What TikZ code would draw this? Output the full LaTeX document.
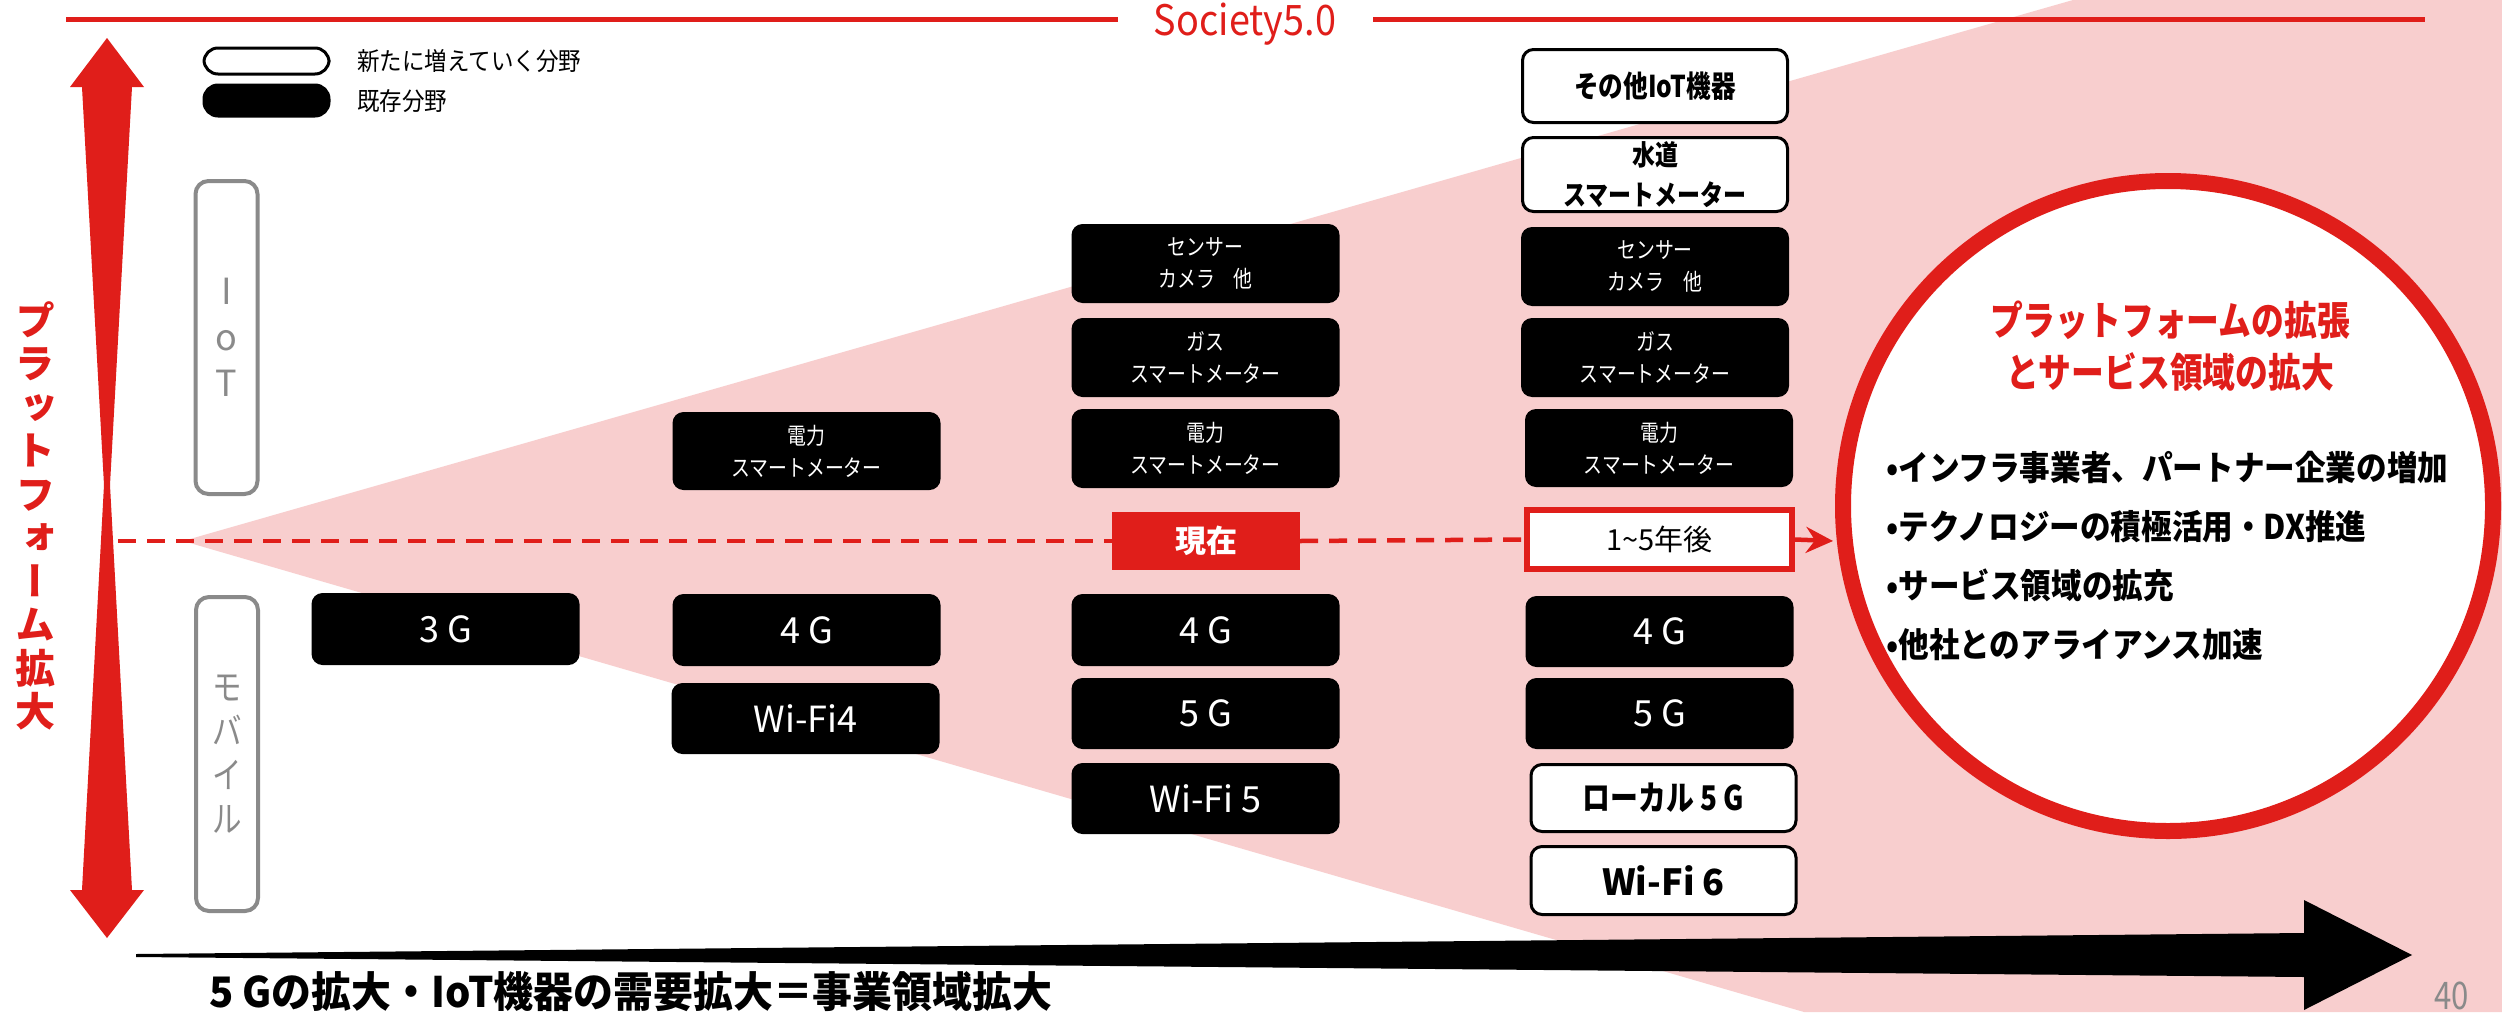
\documentclass[tikz,border=0pt]{standalone}
\usepackage{fontspec}
\setmainfont{Noto Sans CJK JP}
\newfontfamily\jpc{Noto Sans CJK JP}[FakeStretch=0.82]
\newfontfamily\jpn{Noto Sans CJK JP}[FakeStretch=0.9]
\newfontfamily\jpw{Noto Sans CJK JP}[FakeStretch=0.95]
\newfontfamily\jpv{Noto Sans CJK JP}[RawFeature=+vert]
\usetikzlibrary{arrows.meta}
\definecolor{sred}{RGB}{224,30,26}
\definecolor{spink}{RGB}{248,206,206}
\definecolor{sgray}{RGB}{138,138,138}
\begin{document}
\begin{tikzpicture}[x=1pt,y=-1pt,
  blk/.style={rectangle, rounded corners=11pt, fill=black, text=white, minimum width=268pt, inner sep=0pt, align=center, font=\jpc\fontsize{23}{32}\selectfont},
  wht/.style={rectangle, rounded corners=11pt, fill=white, draw=black, line width=3pt, text=black, minimum width=265pt, inner sep=0pt, align=center},
  gtxt/.style={font=\fontsize{36}{40}\selectfont},
  gbox/.style={rectangle, rounded corners=13pt, draw=sgray, line width=4pt, minimum width=62pt, inner sep=0pt, text=sgray, align=center},
  dashline/.style={draw=sred, line width=4.5pt, dash pattern=on 18pt off 11pt},
  legbox/.style={rectangle, rounded corners=14pt, minimum width=125pt, inner sep=0pt, line width=3pt},
]
\clip (0,0) rectangle (2502,1012);
\fill[white] (0,0) rectangle (2502,1012);
% pink wedge
\fill[spink] (183,541) -- (2073,0) -- (2502,0) -- (2502,1012) -- (1804,1012) -- cycle;
% top line and title
\fill[sred] (66,17) rectangle (1118,22);
\fill[sred] (1373,17) rectangle (2425,22);
\node[text=sred, font=\jpn\fontsize{42}{42}\selectfont, inner sep=0pt] (soc) at (1245,24) {Society5.0};
% red double arrow
\fill[sred] (107,38) -- (144,87) -- (132,87) -- (110,485) -- (132,890) -- (144,890) -- (107,938)
  -- (70,890) -- (82,890) -- (104,485) -- (82,87) -- (70,87) -- cycle;
\node[text=sred, align=center, inner sep=0pt, font=\jpv\bfseries\fontsize{40}{43.5}\selectfont] (vtext) at (36,516)
  {プ\\ラ\\ッ\\ト\\フ\\ォ\\ー\\ム\\拡\\大};
% legend
\node[legbox, draw=black, fill=white, minimum height=26pt] (legnew) at (266.5,61) {};
\node[legbox, draw=black, fill=black, minimum height=31pt] (legold) at (266.5,100.5) {};
\node[anchor=west, inner sep=0pt, font=\jpn\fontsize{25}{25}\selectfont] (legnewt) at (357,61) {新たに増えていく分野};
\node[anchor=west, inner sep=0pt, font=\jpn\fontsize{25}{25}\selectfont] (legoldt) at (357,101) {既存分野};
% gray category boxes
\node[gbox, minimum height=313pt, font=\fontsize{36}{46}\selectfont] (iot) at (226.5,337.5) {I\\o\\T};
\node[gbox, minimum height=314pt, font=\jpc\fontsize{36}{44}\selectfont] (mob) at (227,754) {モ\\バ\\イ\\ル};
% dashed timeline
\coordinate (dstart) at (118,541);
\coordinate (arrtip) at (1833,541);
\node[rectangle, fill=sred, text=white, minimum width=188pt, minimum height=58pt, inner sep=0pt, font=\bfseries\fontsize{31}{31}\selectfont] (now) at (1206,541) {現在};
\node[rectangle, fill=white, draw=sred, line width=6pt, minimum width=265pt, minimum height=59pt, inner sep=0pt, font=\fontsize{29}{29}\selectfont] (later) at (1659.5,539.5) {1\textasciitilde 5年後};
\draw[dashline] (dstart) -- (now.west);
\draw[dashline] (now.east) -- (later.west);
\draw[draw=sred, line width=4.5pt, -{Stealth[length=27pt,width=26pt,inset=9pt]}] (later.east) -- (arrtip);
% column 1
\node[blk, gtxt, minimum height=72pt] (c1g3) at (445.5,629) {3 G};
% column 2
\node[blk, minimum height=78pt] (c2pw) at (806.5,451) {電力\\スマートメーター};
\node[blk, gtxt, minimum height=72pt] (c2g4) at (806.5,630) {4 G};
\node[blk, gtxt, minimum height=71pt] (c2wf) at (805.5,718.5) {Wi-Fi4};
% column 3
\node[blk, minimum height=79pt] (c3sn) at (1205.5,263.5) {センサー\\カメラ　他};
\node[blk, minimum height=79pt] (c3gs) at (1205.5,357.5) {ガス\\スマートメーター};
\node[blk, minimum height=79pt] (c3pw) at (1205.5,448.5) {電力\\スマートメーター};
\node[blk, gtxt, minimum height=72pt] (c3g4) at (1205.5,630) {4 G};
\node[blk, gtxt, minimum height=71pt] (c3g5) at (1205.5,713.5) {5 G};
\node[blk, gtxt, minimum height=71pt] (c3wf) at (1205.5,798.5) {Wi-Fi 5};
% column 4
\node[wht, minimum height=73pt, font=\jpc\bfseries\fontsize{30}{30}\selectfont] (c4ot) at (1655,86) {その他IoT機器};
\node[wht, minimum height=74pt, font=\jpc\bfseries\fontsize{28}{40}\selectfont] (c4wt) at (1655,174.5) {水道\\スマートメーター};
\node[blk, minimum height=79pt] (c4sn) at (1655,266.5) {センサー\\カメラ　他};
\node[blk, minimum height=79pt] (c4gs) at (1655,357.5) {ガス\\スマートメーター};
\node[blk, minimum height=78pt] (c4pw) at (1659,448) {電力\\スマートメーター};
\node[blk, gtxt, minimum height=71pt] (c4g4) at (1659.5,631.5) {4 G};
\node[blk, gtxt, minimum height=71pt] (c4g5) at (1659.5,713.5) {5 G};
\node[wht, minimum height=67pt, font=\jpc\bfseries\fontsize{34}{34}\selectfont] (c4lo) at (1663.5,798) {ローカル 5 G};
\node[wht, minimum height=68pt, font=\bfseries\fontsize{36}{36}\selectfont] (c4w6) at (1663.5,880.5) {Wi-Fi 6};
% circle
\node[circle, draw=sred, line width=16pt, fill=white, minimum size=650pt, inner sep=0pt] (circ) at (2168,506) {};
\node[text=sred, align=center, inner sep=0pt, font=\jpc\bfseries\fontsize{40}{52}\selectfont] (ctitle) at (2170,346) {プラットフォームの拡張\\とサービス領域の拡大};
\node[anchor=west, align=left, inner sep=0pt, font=\jpn\bfseries\fontsize{34}{59}\selectfont] (cbul) at (1886,556)
  {•インフラ事業者、パートナー企業の増加\\•テクノロジーの積極活用・DX推進\\•サービス領域の拡充\\•他社とのアライアンス加速};
% bottom arrow
\fill[black] (136,954) -- (2304,933) -- (2304,900) -- (2412,955) -- (2304,1010) -- (2304,977) -- (136,957) -- cycle;
\node[anchor=west, inner sep=0pt, font=\jpw\bfseries\fontsize{42}{42}\selectfont] (btext) at (209,992) {5 Gの拡大・IoT機器の需要拡大＝事業領域拡大};
\node[anchor=base west, inner sep=0pt, text=sgray, font=\jpc\fontsize{38}{38}\selectfont] (pg) at (2434,1009) {40};
\end{tikzpicture}
\end{document}
